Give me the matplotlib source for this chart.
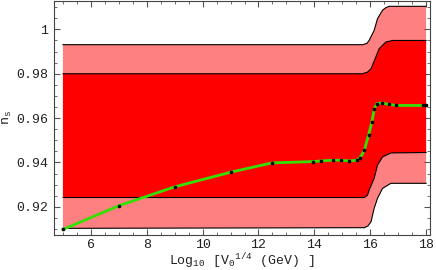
import numpy as np
import matplotlib
matplotlib.use('Agg')
import matplotlib.pyplot as plt
from matplotlib.ticker import MultipleLocator

#%% datos leidos del grafico
# curva n_s (puntos negros)
x_ns = [5.0, 7.0, 9.0, 11.0, 12.48, 13.96, 14.24, 14.65, 14.95, 15.25, 15.51,
        15.64, 15.79, 15.94, 16.06, 16.15, 16.24, 16.42, 16.66, 16.94, 17.9, 18.0]
y_ns = [0.9098, 0.9205, 0.929, 0.9356, 0.9398, 0.9404, 0.9407, 0.941, 0.941, 0.9407, 0.941,
        0.9421, 0.9455, 0.9523, 0.9583, 0.9643, 0.9665, 0.9668, 0.9662, 0.9657, 0.9657, 0.9657]

# bandas (1 sigma rojo, 2 sigma rosa)
x_out_top = [5.0, 15.73, 15.88, 15.96, 16.14, 16.26, 16.44, 16.56, 16.68, 18.0]
y_out_top = [0.9931, 0.9931, 0.9937, 0.995, 0.9995, 1.0048, 1.0086, 1.0098, 1.0104, 1.0104]
x_in_top = [5.0, 15.71, 15.90, 16.03, 16.20, 16.32, 16.56, 16.80, 18.0]
y_in_top = [0.980, 0.980, 0.9807, 0.9823, 0.9875, 0.9913, 0.9943, 0.995, 0.995]
x_in_bot = [5.0, 15.79, 15.90, 15.96, 16.14, 16.26, 16.44, 16.74, 18.0]
y_in_bot = [0.9242, 0.9242, 0.9252, 0.9275, 0.9328, 0.9388, 0.9425, 0.9443, 0.9445]
x_out_bot = [5.0, 15.79, 15.92, 16.03, 16.14, 16.26, 16.44, 16.74, 18.0]
y_out_bot = [0.9103, 0.9106, 0.9114, 0.9133, 0.9193, 0.9238, 0.9283, 0.9306, 0.9306]

#%% figura
plt.rcParams['font.family'] = 'Liberation Mono'
plt.rcParams['mathtext.fontset'] = 'custom'
plt.rcParams['mathtext.rm'] = 'Liberation Mono'
plt.rcParams['mathtext.it'] = 'Liberation Mono'

fig = plt.figure(figsize=(4.36, 2.70), dpi=100)
ax = fig.add_axes([54/436, 35/270, 376/436, 235/270 - 0.002])

ax.fill(x_out_top + x_out_bot[::-1], y_out_top + y_out_bot[::-1],
        color='#ff8080', lw=0, zorder=1)
ax.fill(x_in_top + x_in_bot[::-1], y_in_top + y_in_bot[::-1],
        color='#ff0000', lw=0, zorder=2)
for xx, yy in [(x_out_top, y_out_top), (x_in_top, y_in_top),
               (x_in_bot, y_in_bot), (x_out_bot, y_out_bot)]:
    ax.plot(xx, yy, color='black', lw=0.8, zorder=3)

ax.plot(x_ns, y_ns, color='#33e000', lw=2.0, zorder=4)
ax.plot(x_ns, y_ns, 'o', color='black', ms=1.6, zorder=5)

ax.set_xlim(4.68, 18.14)
ax.set_ylim(0.9073, 1.013)

ax.xaxis.set_major_locator(MultipleLocator(2))
ax.xaxis.set_minor_locator(MultipleLocator(0.5))
ax.yaxis.set_major_locator(MultipleLocator(0.02))
ax.yaxis.set_minor_locator(MultipleLocator(0.005))
ax.set_xticks([6, 8, 10, 12, 14, 16, 18])
ax.set_yticks([0.92, 0.94, 0.96, 0.98, 1.0])
ax.set_yticklabels(['0.92', '0.94', '0.96', '0.98', '1'])

ax.tick_params(which='both', direction='in', top=True, right=True,
               color='#555555', labelsize=9.5, labelcolor='#222222')
ax.tick_params(which='major', length=4, width=0.8, pad=4)
ax.tick_params(axis='x', which='major', pad=3)
ax.tick_params(which='minor', length=2, width=0.6)
for s in ax.spines.values():
    s.set_color('#444444')
    s.set_linewidth(0.8)

ax.set_xlabel('Log$_{10}$ [V$_0$$^{1/4}$ (GeV) ]', fontsize=9.5, color='#222222')
ax.xaxis.set_label_coords(0.5, -0.07)
ax.set_ylabel('n$_\\mathrm{s}$', fontsize=9.5, color='#222222', labelpad=2)

fig.savefig('out.png', dpi=100)
